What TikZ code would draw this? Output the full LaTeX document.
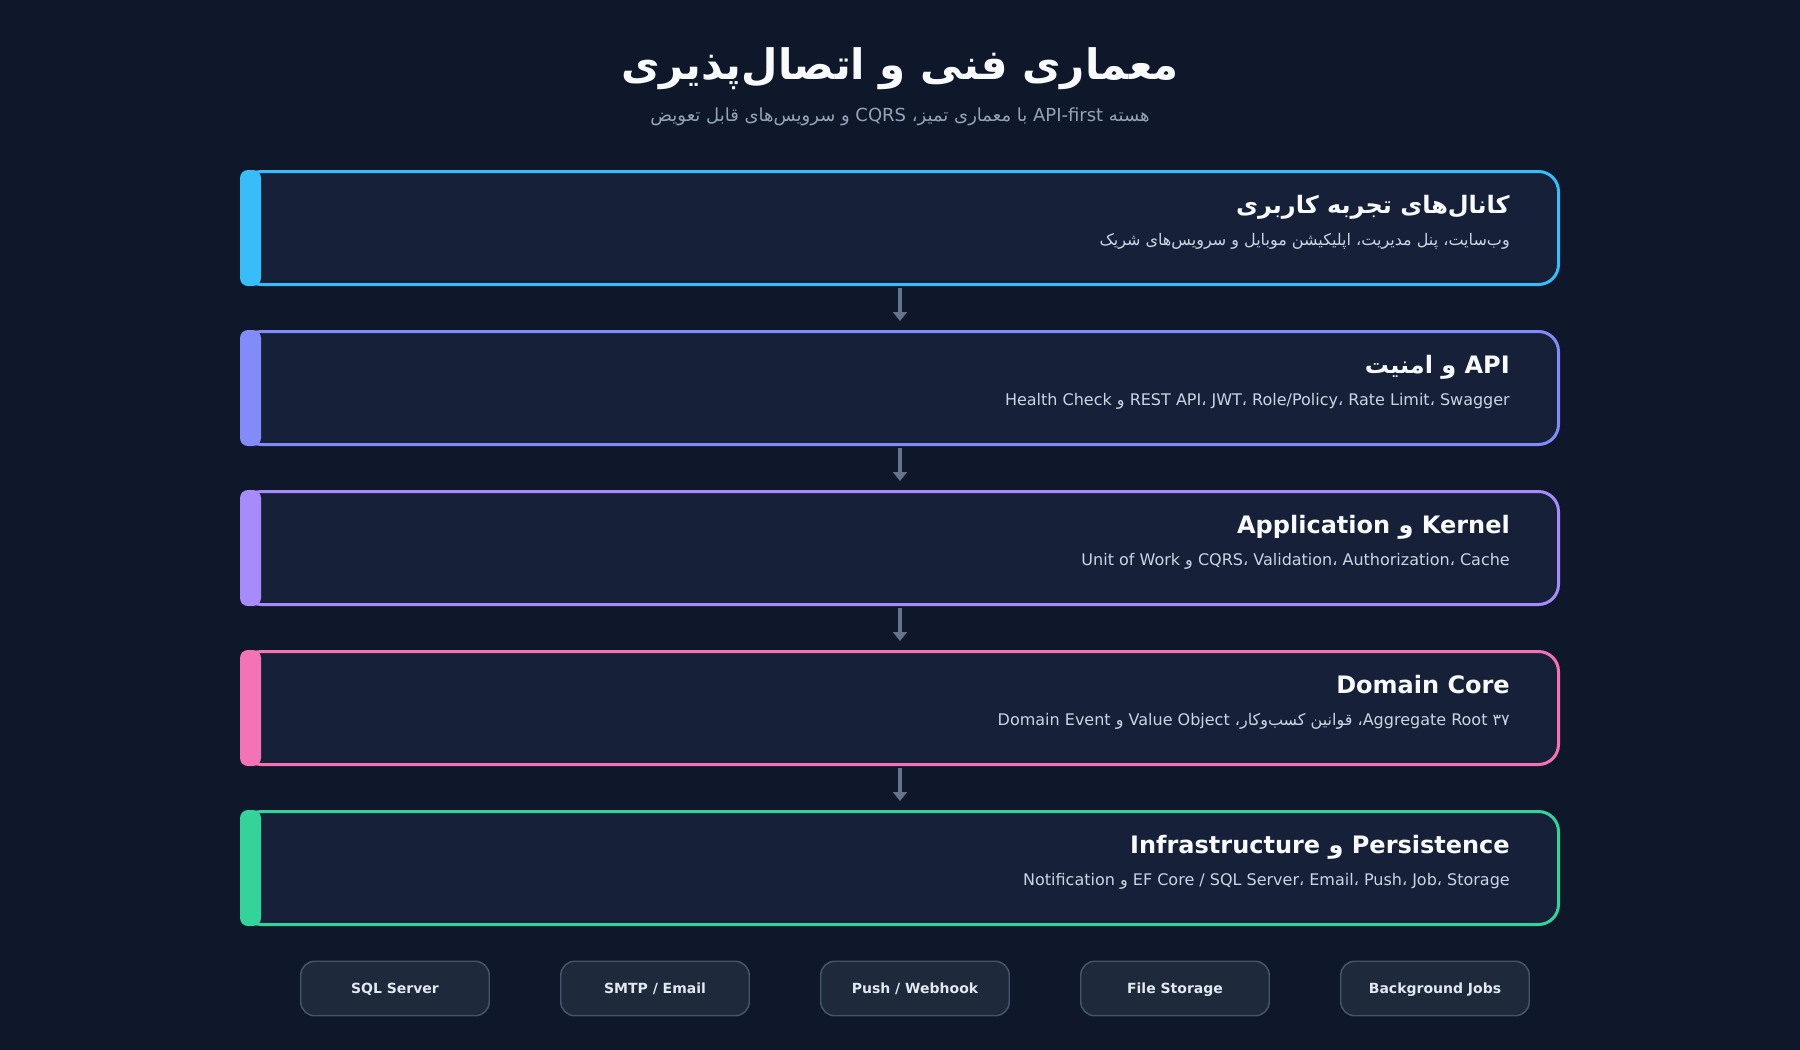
\documentclass[tikz,border=0pt]{standalone}
\usepackage{fontspec}
\setmainfont{DejaVu Sans}
\newfontfamily\fa[Script=Arabic]{DejaVu Sans}
\newfontfamily\la{DejaVu Sans}
\TeXXeTstate=1
\usetikzlibrary{arrows.meta}
\definecolor{bg}{HTML}{0F172A}
\definecolor{boxfill}{HTML}{172039}
\definecolor{cA}{HTML}{38BDF8}
\definecolor{cB}{HTML}{818CF8}
\definecolor{cC}{HTML}{A78BFA}
\definecolor{cD}{HTML}{F472B6}
\definecolor{cE}{HTML}{34D399}
\definecolor{arrowc}{HTML}{64748B}
\definecolor{chipfill}{HTML}{1E293B}
\definecolor{chipdraw}{HTML}{475569}
\definecolor{chiptext}{HTML}{E2E8F0}
\definecolor{titlec}{HTML}{F8FAFC}
\definecolor{subc}{HTML}{CBD5E1}
\definecolor{mutedc}{HTML}{94A3B8}
\newcommand\LT[1]{\beginL{\la #1}\endL}
\tikzset{
  layer/.style={draw=#1, line width=2.25pt, fill=boxfill, rounded corners=15pt,
    minimum width=1317*0.75pt, minimum height=113*0.75pt, inner sep=0pt},
  layerbar/.style={fill=#1, draw=none, rounded corners=6pt,
    minimum width=21*0.75pt, minimum height=116*0.75pt, inner sep=0pt},
  ltitle/.style={anchor=base east, text=titlec, inner sep=0pt,
    font={\fontsize{18}{22}\selectfont\bfseries}},
  lsub/.style={anchor=base east, text=subc, inner sep=0pt,
    font={\fontsize{12}{15}\selectfont}},
  flow/.style={draw=arrowc, line width=3.4pt, -{Triangle[width=10.5pt,length=6.75pt]},
    shorten <=1.5pt, shorten >=6.75pt},
  chip/.style={draw=chipdraw, line width=1.1pt, fill=chipfill, rounded corners=10.5pt,
    minimum width=188.5*0.75pt, minimum height=54.5*0.75pt, inner sep=0pt,
    text height=7.7pt, text depth=0pt,
    text=chiptext, font={\fontsize{10.5}{13}\selectfont\bfseries}},
}
\begin{document}
\begin{tikzpicture}[x=0.75pt, y=-0.75pt]
\fill[bg] (0,0) rectangle (1800,1050);

\node[anchor=base, text=titlec, inner sep=0pt, font={\fontsize{31.5}{36}\selectfont\bfseries}] (title) at (900,79)
  {\fa\beginR معماری فنی و اتصال^^^^200cپذیری\endR};
\node[anchor=base, text=mutedc, inner sep=0pt, font={\fontsize{13.5}{16}\selectfont}] (subtitle) at (900,121)
  {\fa\beginR هسته \LT{API-first} با معماری تمیز، \LT{CQRS} و سرویس^^^^200cهای قابل تعویض\endR};

% layers
\node[layer=cA] (b1) at (900,228) {};
\node[layer=cB] (b2) at (900,388) {};
\node[layer=cC] (b3) at (900,548) {};
\node[layer=cD] (b4) at (900,708) {};
\node[layer=cE] (b5) at (900,868) {};

\node[layerbar=cA] (bar1) at (250.5,228) {};
\node[layerbar=cB] (bar2) at (250.5,388) {};
\node[layerbar=cC] (bar3) at (250.5,548) {};
\node[layerbar=cD] (bar4) at (250.5,708) {};
\node[layerbar=cE] (bar5) at (250.5,868) {};

\node[ltitle] (t1) at (1510,213) {\fa\beginR کانال^^^^200cهای تجربه کاربری\endR};
\node[lsub] (s1) at (1510,245) {\fa\beginR وب^^^^200cسایت، پنل مدیریت، اپلیکیشن موبایل و سرویس^^^^200cهای شریک\endR};

\node[ltitle] (t2) at (1510,373) {\fa\beginR \LT{API} و امنیت\endR};
\node[lsub] (s2) at (1510,405) {\fa\beginR \LT{REST API، JWT، Role/Policy، Rate Limit، Swagger} و \LT{Health Check}\endR};

\node[ltitle] (t3) at (1510,533) {\fa\beginR \LT{Kernel} و \LT{Application}\endR};
\node[lsub] (s3) at (1510,565) {\fa\beginR \LT{CQRS، Validation، Authorization، Cache} و \LT{Unit of Work}\endR};

\node[ltitle] (t4) at (1510,693) {Domain Core};
\node[lsub] (s4) at (1510,725) {\fa\beginR \LT{۳۷} \LT{Aggregate Root}، قوانین کسب^^^^200cوکار، \LT{Value Object} و \LT{Domain Event}\endR};

\node[ltitle] (t5) at (1510,853) {\fa\beginR \LT{Persistence} و \LT{Infrastructure}\endR};
\node[lsub] (s5) at (1510,885) {\fa\beginR \LT{EF Core / SQL Server، Email، Push، Job، Storage} و \LT{Notification}\endR};

% flow arrows
\draw[flow] (b1.south) -- (b2.north);
\draw[flow] (b2.south) -- (b3.north);
\draw[flow] (b3.south) -- (b4.north);
\draw[flow] (b4.south) -- (b5.north);

% chips
\node[chip] (ch1) at (395,988.5) {SQL Server};
\node[chip] (ch2) at (655,988.5) {SMTP / Email};
\node[chip] (ch3) at (915,988.5) {Push / Webhook};
\node[chip] (ch4) at (1175,988.5) {File Storage};
\node[chip] (ch5) at (1435,988.5) {Background Jobs};
\end{tikzpicture}
\end{document}
